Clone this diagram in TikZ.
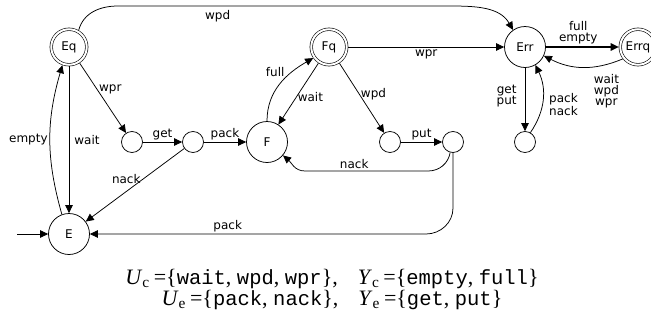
\documentclass[tikz,border=0pt]{standalone}
\usepackage{fontspec}
\setmainfont{DejaVu Sans}
\newfontfamily\tnr{Liberation Serif}
\newfontfamily\cour{Liberation Mono}
\usetikzlibrary{arrows.meta}
\tikzset{
  st/.style={circle, draw, line width=0.75pt, minimum size=41pt, inner sep=0pt, font=\fontsize{12}{12}\selectfont},
  acc/.style={circle, draw, line width=0.6pt, double, double distance=2pt, minimum size=35.5pt, inner sep=0pt, outer sep=1.6pt, font=\fontsize{12}{12}\selectfont},
  sm/.style={circle, draw, line width=0.75pt, minimum size=21pt, inner sep=0pt},
  arr/.style={line width=0.75pt, -{Triangle[length=8pt,width=7.5pt]}},
  lab/.style={font=\fontsize{12}{11}\selectfont, inner sep=2pt, align=center},
}
\newcommand\mw[1]{{\cour\fontsize{20.5}{21}\selectfont #1}}
\newcommand\vv[2]{\textit{#1}\textsubscript{#2}\hspace{4pt}=}
\begin{document}
\begin{tikzpicture}[x=1pt,y=1pt]
\useasboundingbox (0,0) rectangle (651,-327);
\node[acc] (Eq) at (69,-47) {Eq};
\node[st] (E) at (69,-234) {E};
\node[sm] (s1) at (132,-142) {};
\node[sm] (s2) at (193,-142) {};
\node[st] (F) at (267,-142) {F};
\node[acc] (Fq) at (329,-47) {Fq};
\node[sm] (s3) at (390,-142) {};
\node[sm] (s4) at (453,-142) {};
\node[st] (Err) at (525,-47) {Err};
\node[acc] (Errq) at (638,-47) {Errq};
\node[sm] (s5) at (525,-142) {};
\coordinate (init) at (17,-234);

\draw[arr] (init) -- (E);
\draw[arr] (Eq) -- node[lab, right, xshift=3pt]{wait} (E);
\draw[arr] (E.110) to[bend left=16] node[lab, left]{empty} (Eq.250);
\draw[arr] (Eq) -- node[lab, pos=0.38, right, inner sep=1.5pt]{wpr} (s1);
\draw[arr] (s1) -- node[lab, above]{get} (s2);
\draw[arr] (s2) -- node[lab, above]{pack} (F);
\draw[arr] (s2) -- node[lab, pos=0.42, left]{nack} (E);
\draw[arr] (F.north) to[out=90, in=210] node[lab, pos=0.72, left, xshift=-6pt]{full} (Fq.215);
\draw[arr] (Fq) -- node[lab, right, inner sep=1pt, xshift=-2pt, yshift=-3pt]{wait} (F);
\draw[arr] (Fq) -- node[lab, pos=0.45, right, inner sep=1pt]{wpd} (s3);
\draw[arr] (s3) -- node[lab, above]{put} (s4);
\draw[arr] (s4.255) to[out=-100, in=0] (428,-171) -- node[lab, pos=0.6, above]{nack} (305,-171) to[out=180, in=-40] (F.-40);
\draw[arr] (s4.south) -- (453,-208) to[out=-90, in=0] (426,-234) -- node[lab, pos=0.59, above]{pack} (E);
\draw[arr] (Eq.60) to[out=75, in=180] (118,-6) -- node[lab, pos=0.3, below, yshift=-2pt]{wpd} (450,-6) to[out=0, in=120] (Err.125);
\draw[arr] (Fq) -- node[lab, below]{wpr} (Err);
\draw[arr, line width=1.4pt] (Err) -- node[lab, above, xshift=-4pt]{full\\empty} (Errq);
\draw[arr] (Errq.218) to[bend left=25] node[lab, pos=0.3, below, xshift=8pt, yshift=-6pt]{wait\\wpd\\wpr} (Err.-25);
\draw[arr] (Err) -- node[lab, left, xshift=-6pt, yshift=3pt]{get\\put} (s5);
\draw[arr] (s5.60) to[bend right=30] node[lab, right, xshift=4pt, yshift=-5pt]{pack\\nack} (Err.-60);

\node[font=\tnr\fontsize{22}{21}\selectfont, align=center, inner sep=0pt, anchor=base] (formula) at (332,-305)
 {\vv{U}{c}\{\mw{wait}, \mw{wpd}, \mw{wpr}\},\hspace{20pt}\vv{Y}{c}\{\mw{empty}, \mw{full}\}\\
  \vv{U}{e}\{\mw{pack}, \mw{nack}\},\hspace{20pt}\vv{Y}{e}\{\mw{get}, \mw{put}\}};
\end{tikzpicture}
\end{document}
